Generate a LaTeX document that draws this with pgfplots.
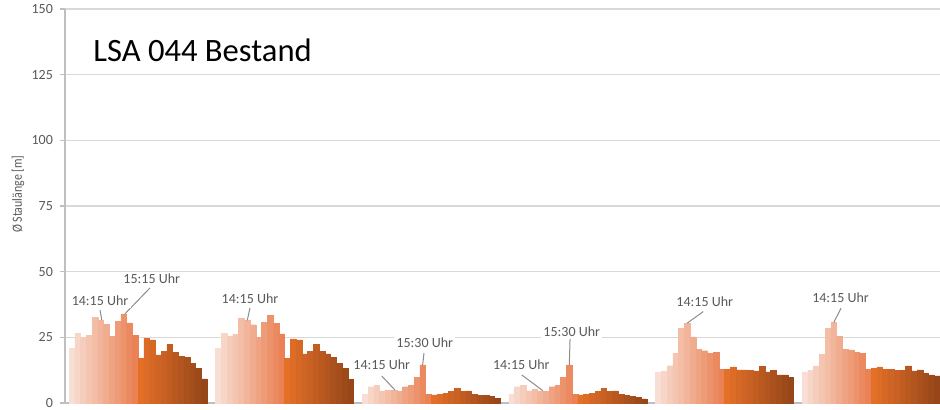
\documentclass[border=0pt]{standalone}
\usepackage{fontspec}
\setmainfont{Carlito}
\usepackage{graphicx}
\usepackage{pgfplots}
\pgfplotsset{compat=1.18}
\definecolor{c0}{RGB}{248,222,212}
\definecolor{c1}{RGB}{247,214,200}
\definecolor{c2}{RGB}{245,205,189}
\definecolor{c3}{RGB}{244,197,177}
\definecolor{c4}{RGB}{243,189,166}
\definecolor{c5}{RGB}{242,180,154}
\definecolor{c6}{RGB}{240,172,143}
\definecolor{c7}{RGB}{239,163,131}
\definecolor{c8}{RGB}{238,155,120}
\definecolor{c9}{RGB}{237,147,108}
\definecolor{c10}{RGB}{235,138,97}
\definecolor{c11}{RGB}{234,130,85}
\definecolor{c12}{RGB}{228,112,40}
\definecolor{c13}{RGB}{221,108,39}
\definecolor{c14}{RGB}{214,104,37}
\definecolor{c15}{RGB}{207,101,36}
\definecolor{c16}{RGB}{200,97,35}
\definecolor{c17}{RGB}{193,93,33}
\definecolor{c18}{RGB}{185,89,32}
\definecolor{c19}{RGB}{178,85,30}
\definecolor{c20}{RGB}{171,81,29}
\definecolor{c21}{RGB}{164,78,28}
\definecolor{c22}{RGB}{157,74,26}
\definecolor{c23}{RGB}{150,70,25}
\definecolor{labgray}{RGB}{89,89,89}
\definecolor{leader}{RGB}{140,140,140}
\definecolor{gridgray}{RGB}{217,217,217}
\definecolor{axgray}{RGB}{191,191,191}
\begin{document}
\begin{tikzpicture}[x=1pt,y=1pt]
\useasboundingbox (0,0) rectangle (470,204.5);
\begin{axis}[
  at={(32.5pt,3pt)}, anchor=south west,
  width=437.5pt, height=197pt, scale only axis,
  xmin=-1.2, xmax=150.97, ymin=0, ymax=150,
  ytick={0,25,...,150},
  xtick=\empty,
  axis lines*=left,
  axis line style={draw=axgray, line width=0.6pt},
  ymajorgrids,
  grid style={draw=gridgray, line width=0.6pt},
  tick align=outside,
  major tick length=2.5pt,
  tick style={draw=axgray, line width=0.6pt},
  /pgf/number format/assume math mode=true,
  yticklabel style={font=\fontsize{7}{8}\selectfont, text=labgray},
  ylabel={\scalebox{0.85}[1]{Ø Staulänge [m]}},
  every axis y label/.style={at={(axis description cs:-0.0537,0.53)}, rotate=90, anchor=center, font=\fontsize{7}{8}\selectfont, text=labgray},
  every axis plot/.append style={ybar, bar width=1, bar shift=0pt, line width=0.2pt},
  clip=true,
]
\addplot[fill=c0,draw=c0] coordinates {(0,21) (25.5,20.9) (51,3.4) (76.5,3.4) (102,11.9) (127.5,11.9)};
\addplot[fill=c1,draw=c1] coordinates {(1,26.5) (26.5,26.6) (52,6.2) (77.5,6.2) (103,12.2) (128.5,12.5)};
\addplot[fill=c2,draw=c2] coordinates {(2,25) (27.5,25.6) (53,6.6) (78.5,6.6) (104,14.2) (129.5,14.1)};
\addplot[fill=c3,draw=c3] coordinates {(3,25.7) (28.5,26.2) (54,4.6) (79.5,4.6) (105,18.9) (130.5,18.5)};
\addplot[fill=c4,draw=c4] coordinates {(4,32.5) (29.5,32.3) (55,5) (80.5,5.2) (106,28.4) (131.5,28.4)};
\addplot[fill=c5,draw=c5] coordinates {(5,31.5) (30.5,31.4) (56,4.8) (81.5,4.6) (107,30.3) (132.5,30.6)};
\addplot[fill=c6,draw=c6] coordinates {(6,30) (31.5,29.8) (57,4.4) (82.5,4.4) (108,25.2) (133.5,25.5)};
\addplot[fill=c7,draw=c7] coordinates {(7,25.5) (32.5,25) (58,6.2) (83.5,6.2) (109,20.4) (134.5,20.4)};
\addplot[fill=c8,draw=c8] coordinates {(8,31) (33.5,30.6) (59,6.6) (84.5,6.6) (110,19.9) (135.5,20.2)};
\addplot[fill=c9,draw=c9] coordinates {(9,33.8) (34.5,33.3) (60,9.7) (85.5,9.7) (111,18.9) (136.5,19.2)};
\addplot[fill=c10,draw=c10] coordinates {(10,30.5) (35.5,30.4) (61,14.5) (86.5,14.5) (112,19.2) (137.5,19)};
\addplot[fill=c11,draw=c11] coordinates {(11,25.7) (36.5,26.3) (62,3.4) (87.5,3.4) (113,12.8) (138.5,12.8)};
\addplot[fill=c12,draw=c12] coordinates {(12,17) (37.5,17) (63,3.1) (88.5,3.1) (114,12.8) (139.5,13.2)};
\addplot[fill=c13,draw=c13] coordinates {(13,24.7) (38.5,24.4) (64,3.4) (89.5,3.4) (115,13.8) (140.5,13.8)};
\addplot[fill=c14,draw=c14] coordinates {(14,24) (39.5,24) (65,3.7) (90.5,3.7) (116,12.6) (141.5,12.8)};
\addplot[fill=c15,draw=c15] coordinates {(15,18.3) (40.5,18.7) (66,4.4) (91.5,4.4) (117,12.6) (142.5,12.8)};
\addplot[fill=c16,draw=c16] coordinates {(16,19.6) (41.5,19.6) (67,5.6) (92.5,5.6) (118,12.4) (143.5,12.5)};
\addplot[fill=c17,draw=c17] coordinates {(17,22.4) (42.5,22.4) (68,4.4) (93.5,4.4) (119,12.2) (144.5,12.5)};
\addplot[fill=c18,draw=c18] coordinates {(18,19.2) (43.5,19.6) (69,4.6) (94.5,4.6) (120,14.0) (145.5,14.1)};
\addplot[fill=c19,draw=c19] coordinates {(19,17.7) (44.5,18.7) (70,3.4) (95.5,3.4) (121,11.9) (146.5,12.2)};
\addplot[fill=c20,draw=c20] coordinates {(20,17.4) (45.5,17.4) (71,2.9) (96.5,2.9) (122,12.4) (147.5,12.6)};
\addplot[fill=c21,draw=c21] coordinates {(21,15.1) (46.5,15.1) (72,2.9) (97.5,2.5) (123,10.7) (148.5,11.3)};
\addplot[fill=c22,draw=c22] coordinates {(22,13.2) (47.5,13.2) (73,2.5) (98.5,2.2) (124,10.7) (149.5,10.7)};
\addplot[fill=c23,draw=c23] coordinates {(23,9.2) (48.5,9) (74,1.9) (99.5,1.6) (125,9.8) (150.5,10.3)};
% leader lines
\draw[leader, line width=0.5pt] (axis cs:4.89,35.4) -- (axis cs:5.2,31.6);
\draw[leader, line width=0.5pt] (axis cs:13.58,43.8) -- (axis cs:9.2,33.9);
\draw[leader, line width=0.5pt] (axis cs:30.97,36.2) -- (axis cs:30.5,31.5);
\draw[leader, line width=0.5pt] (axis cs:53.88,10.3) -- (axis cs:56.2,4.9);
\draw[leader, line width=0.5pt] (axis cs:61.23,19.0) -- (axis cs:61.0,14.5);
\draw[leader, line width=0.5pt] (axis cs:78.23,10.7) -- (axis cs:81.9,4.7);
\draw[leader, line width=0.5pt] (axis cs:86.63,24.4) -- (axis cs:86.5,14.5);
\draw[leader, line width=0.5pt] (axis cs:109.8,34.8) -- (axis cs:107.0,30.4);
\draw[leader, line width=0.5pt] (axis cs:133.76,36.1) -- (axis cs:132.5,30.7);
% labels
\tikzset{lab/.style={fill=white, inner sep=1.2pt, font=\fontsize{7}{8}\selectfont, text=labgray}}
\node[lab] at (axis cs:4.89,38.8) {14:15 Uhr};
\node[lab] at (axis cs:13.88,47.2) {15:15 Uhr};
\node[lab] at (axis cs:30.97,39.6) {14:15 Uhr};
\node[lab] at (axis cs:53.88,14.5) {14:15 Uhr};
\node[lab] at (axis cs:61.36,23.0) {15:30 Uhr};
\node[lab] at (axis cs:78.16,14.5) {14:15 Uhr};
\node[lab] at (axis cs:86.92,27.0) {15:30 Uhr};
\node[lab] at (axis cs:110.05,38.5) {14:15 Uhr};
\node[lab] at (axis cs:133.67,40.0) {14:15 Uhr};
\node[anchor=west, inner sep=0pt, font=\fontsize{16.3}{19}\selectfont] at (axis description cs:0.032,0.896) {LSA 044 Bestand};
\end{axis}
\end{tikzpicture}
\end{document}
